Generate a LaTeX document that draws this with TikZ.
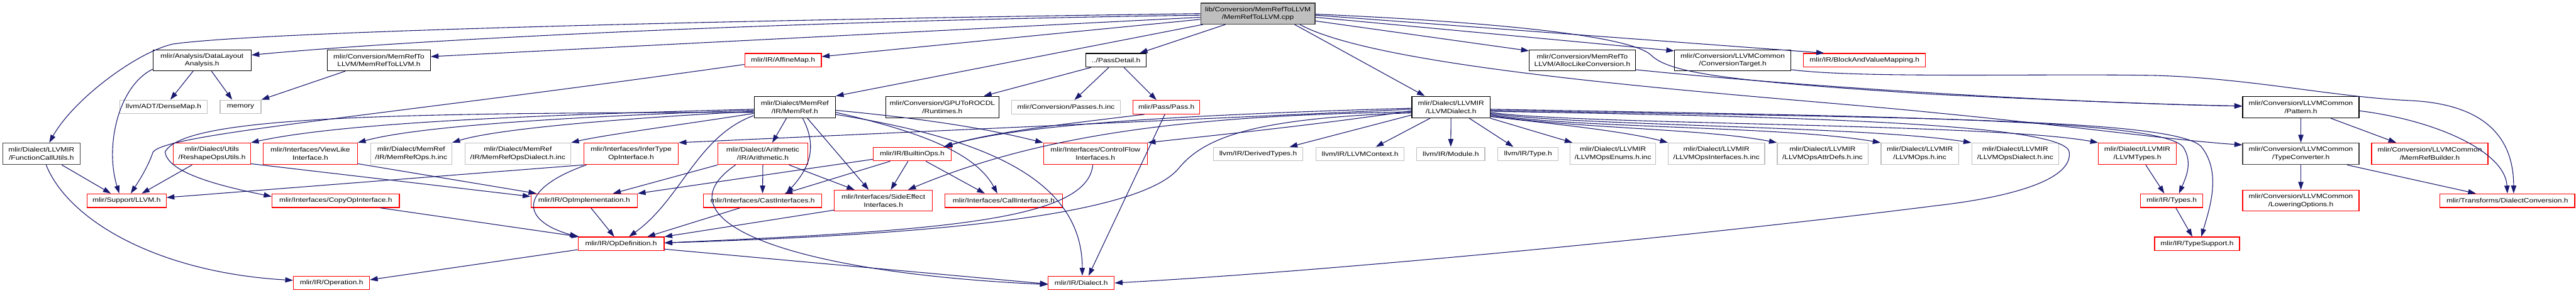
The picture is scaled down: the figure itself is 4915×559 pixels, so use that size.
\documentclass[tikz,border=0pt]{standalone}
\usepackage{fontspec}
\setmainfont{Liberation Sans}[FakeStretch=1.2]
\usetikzlibrary{arrows.meta}
\definecolor{edgec}{HTML}{191970}
\definecolor{grayb}{HTML}{BFBFBF}
\definecolor{dgray}{HTML}{404040}
\definecolor{redb}{HTML}{FF0000}
\tikzset{
 box/.style={draw, line width=1.5pt, fill=white, inner sep=0pt, align=center, font=\fontsize{12}{15}\selectfont},
 blk/.style={box, draw=black},
 gry/.style={box, draw=grayb},
 rd/.style={box, draw=redb},
 dg/.style={box, draw=dgray},
 rootbox/.style={box, draw=dgray, fill=grayb},
 edge/.style={draw=edgec, line width=1.3pt, -{Triangle[length=15pt,width=10pt]}},
}
\begin{document}
\begin{tikzpicture}[x=1pt,y=-1pt]
\useasboundingbox[fill=white] (0,0) rectangle (4915,559);
% row 1
\node[rootbox, minimum width=218pt, minimum height=40pt] (root) at (2400,26) {lib/Conversion/MemRefToLLVM\\/MemRefToLLVM.cpp};
% row 2
\node[blk, minimum width=187pt, minimum height=40pt] (dl) at (385.5,115) {mlir/Analysis/DataLayout\\Analysis.h};
\node[blk, minimum width=196pt, minimum height=40pt] (m2l) at (723,115) {mlir/Conversion/MemRefTo\\LLVM/MemRefToLLVM.h};
\node[rd, minimum width=146pt, minimum height=26pt] (aff) at (1494,115) {mlir/IR/AffineMap.h};
\node[blk, minimum width=115pt, minimum height=26pt] (pd) at (2129.5,115) {../PassDetail.h};
\node[blk, minimum width=202pt, minimum height=40pt] (alloc) at (3019,115) {mlir/Conversion/MemRefTo\\LLVM/AllocLikeConversion.h};
\node[blk, minimum width=222pt, minimum height=40pt] (ct) at (3306,115) {mlir/Conversion/LLVMCommon\\/ConversionTarget.h};
\node[rd, minimum width=233pt, minimum height=26pt] (bvm) at (3557.5,115) {mlir/IR/BlockAndValueMapping.h};
% row 3
\node[gry, minimum width=166pt, minimum height=26pt] (dense) at (312,204) {llvm/ADT/DenseMap.h};
\node[gry, minimum width=78pt, minimum height=26pt] (mem) at (459,204) {memory};
\node[blk, minimum width=155pt, minimum height=41pt] (memref) at (1516.5,204.5) {mlir/Dialect/MemRef\\/IR/MemRef.h};
\node[blk, minimum width=216pt, minimum height=41pt] (rt) at (1798,204.5) {mlir/Conversion/GPUToROCDL\\/Runtimes.h};
\node[gry, minimum width=208pt, minimum height=26pt] (passinc) at (2034,204.5) {mlir/Conversion/Passes.h.inc};
\node[rd, minimum width=127pt, minimum height=26pt] (pass) at (2225.5,204.5) {mlir/Pass/Pass.h};
\node[blk, minimum width=149pt, minimum height=41pt] (llvmd) at (2768.5,204.5) {mlir/Dialect/LLVMIR\\/LLVMDialect.h};
\node[blk, minimum width=222pt, minimum height=41pt] (pat) at (4390,204.5) {mlir/Conversion/LLVMCommon\\/Pattern.h};
% row 4
\node[dg, minimum width=148pt, minimum height=41pt] (fcu) at (79,293.5) {mlir/Dialect/LLVMIR\\/FunctionCallUtils.h};
\node[rd, minimum width=147pt, minimum height=41pt] (reshape) at (404.5,293.5) {mlir/Dialect/Utils\\/ReshapeOpsUtils.h};
\node[rd, minimum width=180pt, minimum height=41pt] (view) at (592,293.5) {mlir/Interfaces/ViewLike\\Interface.h};
\node[gry, minimum width=155pt, minimum height=41pt] (mrops) at (784.5,293.5) {mlir/Dialect/MemRef\\/IR/MemRefOps.h.inc};
\node[gry, minimum width=202pt, minimum height=41pt] (mrdial) at (988,293.5) {mlir/Dialect/MemRef\\/IR/MemRefOpsDialect.h.inc};
\node[rd, minimum width=180pt, minimum height=41pt] (infer) at (1204,293.5) {mlir/Interfaces/InferType\\OpInterface.h};
\node[rd, minimum width=171pt, minimum height=41pt] (arith) at (1455.5,293.5) {mlir/Dialect/Arithmetic\\/IR/Arithmetic.h};
\node[rd, minimum width=149pt, minimum height=26pt] (builtin) at (1740.5,294) {mlir/IR/BuiltinOps.h};
\node[rd, minimum width=198pt, minimum height=41pt] (cf) at (2090,293.5) {mlir/Interfaces/ControlFlow\\Interfaces.h};
\node[gry, minimum width=171pt, minimum height=26pt] (derived) at (2400.5,294) {llvm/IR/DerivedTypes.h};
\node[gry, minimum width=168pt, minimum height=26pt] (ctx) at (2595,294) {llvm/IR/LLVMContext.h};
\node[gry, minimum width=130pt, minimum height=26pt] (module) at (2768,294) {llvm/IR/Module.h};
\node[gry, minimum width=115pt, minimum height=26pt] (type) at (2915.5,294) {llvm/IR/Type.h};
\node[gry, minimum width=163pt, minimum height=41pt] (enums) at (3077.5,293.5) {mlir/Dialect/LLVMIR\\/LLVMOpsEnums.h.inc};
\node[gry, minimum width=184pt, minimum height=41pt] (ifaces) at (3275,293.5) {mlir/Dialect/LLVMIR\\/LLVMOpsInterfaces.h.inc};
\node[gry, minimum width=173pt, minimum height=41pt] (attrs) at (3477.5,293.5) {mlir/Dialect/LLVMIR\\/LLVMOpsAttrDefs.h.inc};
\node[gry, minimum width=148pt, minimum height=41pt] (opsinc) at (3663,293.5) {mlir/Dialect/LLVMIR\\/LLVMOps.h.inc};
\node[gry, minimum width=166pt, minimum height=41pt] (opsdial) at (3845,293.5) {mlir/Dialect/LLVMIR\\/LLVMOpsDialect.h.inc};
\node[rd, minimum width=148pt, minimum height=41pt] (ltypes) at (4078,293.5) {mlir/Dialect/LLVMIR\\/LLVMTypes.h};
\node[dg, minimum width=222pt, minimum height=41pt] (tc) at (4390,293.5) {mlir/Conversion/LLVMCommon\\/TypeConverter.h};
\node[rd, minimum width=222pt, minimum height=41pt] (mrb) at (4636,293.5) {mlir/Conversion/LLVMCommon\\/MemRefBuilder.h};
% row 5
\node[rd, minimum width=151pt, minimum height=26pt] (llvmh) at (241.5,383) {mlir/Support/LLVM.h};
\node[rd, minimum width=243pt, minimum height=26pt] (copy) at (640.5,383) {mlir/Interfaces/CopyOpInterface.h};
\node[rd, minimum width=203pt, minimum height=26pt] (opimpl) at (1114.5,383) {mlir/IR/OpImplementation.h};
\node[rd, minimum width=226pt, minimum height=26pt] (cast) at (1455,383) {mlir/Interfaces/CastInterfaces.h};
\node[rd, minimum width=187pt, minimum height=40pt] (side) at (1685.5,383) {mlir/Interfaces/SideEffect\\Interfaces.h};
\node[rd, minimum width=224pt, minimum height=26pt] (call) at (1915,383) {mlir/Interfaces/CallInterfaces.h};
\node[rd, minimum width=119pt, minimum height=26pt] (types) at (4143.5,383) {mlir/IR/Types.h};
\node[rd, minimum width=222pt, minimum height=40pt] (lower) at (4390,383) {mlir/Conversion/LLVMCommon\\/LoweringOptions.h};
\node[rd, minimum width=257pt, minimum height=26pt] (dconv) at (4784,383) {mlir/Transforms/DialectConversion.h};
% row 6
\node[rd, minimum width=164pt, minimum height=26pt] (opdef) at (1185,465.5) {mlir/IR/OpDefinition.h};
\node[rd, minimum width=162pt, minimum height=26pt] (tsup) at (4192,465.5) {mlir/IR/TypeSupport.h};
% row 7
\node[rd, minimum width=145pt, minimum height=26pt] (op) at (632.5,540) {mlir/IR/Operation.h};
\node[rd, minimum width=126pt, minimum height=26pt] (dialect) at (2063,540) {mlir/IR/Dialect.h};

% ---- edges from root
\draw[edge] (root.west) .. controls (1400,38) and (500,60) .. (330,84) .. controls (260,100) and (140,190) .. ([xshift=15pt]fcu.north);
\draw[edge] ([yshift=-3pt]root.west) .. controls (1500,40) and (800,75) .. ([yshift=10pt]dl.east);
\draw[edge] ([yshift=-7pt]root.west) -- ([yshift=7pt]m2l.east);
\draw[edge] ([yshift=-11pt]root.west) -- ([yshift=7pt]aff.east);
\draw[edge] ([xshift=5pt]root.south west) -- (memref.north east);
\draw[edge] ([xshift=-62pt]root.south) -- ([xshift=45pt]pd.north);
\draw[edge] ([xshift=70pt]root.south) -- ([xshift=-50pt]llvmd.north);
\draw[edge] ([yshift=-14pt]root.east) -- ([yshift=18pt]alloc.west);
\draw[edge] ([yshift=-7pt]root.east) -- ([yshift=18pt]ct.west);
\draw[edge] ([yshift=-3pt]root.east) -- ([xshift=-77pt]bvm.north);
\draw[edge] ([yshift=-1pt]root.east) .. controls (2850,42) and (3110,68) .. (3150,105) .. controls (3185,140) and (3300,155) .. (3690,180) .. controls (4000,195) and (4150,200) .. ([yshift=2pt]pat.west);
\draw[edge] ([xshift=80pt]root.south) .. controls (2650,140) and (3400,185) .. (3690,215) .. controls (3950,240) and (4150,268) .. ([yshift=17pt]tc.west);

% ---- right part
\draw[edge] ([yshift=-18pt]alloc.east) .. controls (3400,162) and (3900,195) .. ([yshift=2pt]pat.west);
\draw[edge] ([yshift=-18pt]ct.east) .. controls (3550,150) and (3900,140) .. (4113,144) .. controls (4300,150) and (4450,185) .. (4600,192) .. controls (4760,200) and (4796,280) .. ([xshift=12pt]dconv.north);
\draw[edge] ([yshift=-7pt]pat.east) .. controls (4650,230) and (4780,290) .. (dconv.north);
\draw[edge] (pat.south) -- (tc.north);
\draw[edge] ([xshift=57pt]pat.south) -- ([xshift=-64pt]mrb.north);
\draw[edge] (tc.south) -- (lower.north);
\draw[edge] ([xshift=88pt]tc.south) -- ([xshift=-60pt]dconv.north);
\draw[edge] ([xshift=16pt]ltypes.south) -- ([xshift=-14pt]types.north);
\draw[edge] ([xshift=8pt]types.south) -- ([xshift=-9pt]tsup.north);

% ---- LLVMDialect
\draw[edge] ([yshift=-4pt]llvmd.east) .. controls (3600,222) and (4120,228) .. (4165,280) .. controls (4185,310) and (4170,340) .. ([xshift=14pt]types.north);
\draw[edge] ([yshift=-6pt]llvmd.east) .. controls (3600,225) and (4150,225) .. (4200,280) .. controls (4240,330) and (4215,400) .. ([xshift=8pt]tsup.north);
\draw[edge] ([yshift=-8pt]llvmd.east) .. controls (3400,222) and (3940,235) .. (3948,290) .. controls (3955,340) and (3850,375) .. (3690,393) .. controls (3200,455) and (2500,520) .. (dialect.east);
\draw[edge] ([yshift=-10pt]llvmd.east) .. controls (3000,238) and (3800,235) .. (ltypes.north west);
\draw[edge] ([yshift=-12pt]llvmd.east) .. controls (3000,240) and (3550,240) .. (opsdial.north west);
\draw[edge] ([yshift=-14pt]llvmd.east) .. controls (3000,245) and (3400,240) .. (opsinc.north west);
\draw[edge] ([yshift=-16pt]llvmd.east) .. controls (3000,245) and (3250,245) .. (attrs.north west);
\draw[edge] ([yshift=-18pt]llvmd.east) .. controls (2950,235) and (3100,250) .. (ifaces.north west);
\draw[edge] (llvmd.south east) -- ([xshift=5pt]enums.north west);
\draw[edge] ([xshift=35pt]llvmd.south) -- ([xshift=-28pt]type.north);
\draw[edge] (llvmd.south) -- (module.north);
\draw[edge] ([xshift=-40pt]llvmd.south) -- ([xshift=30pt]ctx.north);
\draw[edge] ([yshift=-15pt]llvmd.west) -- ([xshift=60pt]derived.north);
\draw[edge] ([yshift=-2pt]llvmd.west) .. controls (2300,218) and (1950,235) .. ([xshift=62pt]builtin.north);
\draw[edge] ([yshift=-4pt]llvmd.west) -- (infer.north east);
\draw[edge] ([yshift=-7pt]llvmd.west) .. controls (2500,240) and (2300,260) .. (cf.north east);
\draw[edge] ([yshift=-9pt]llvmd.west) .. controls (2300,220) and (2000,250) .. ([xshift=47pt]side.north);
\draw[edge] ([yshift=-11pt]llvmd.west) .. controls (2400,225) and (2300,260) .. (2250,320) .. controls (2170,420) and (1700,450) .. ([yshift=2pt]opdef.east);

% ---- Pass / PassDetail
\draw[edge] ([xshift=-5pt]cf.south) .. controls (2075,420) and (1800,440) .. ([yshift=2pt]opdef.east);
\draw[edge] ([xshift=-42pt]pass.south) .. controls (2050,235) and (1900,250) .. ([xshift=60pt]builtin.north);
\draw[edge] ([xshift=-3pt]pass.south) -- ([xshift=14pt]dialect.north);
\draw[edge] ([xshift=-48pt]pd.south) -- ([xshift=79pt]rt.north);
\draw[edge] ([xshift=-14pt]pd.south) -- ([xshift=16pt]passinc.north);
\draw[edge] ([xshift=15pt]pd.south) -- ([xshift=-19pt]pass.north);

% ---- left part
\draw[edge] ([xshift=-17pt]dl.south) -- ([xshift=13pt]dense.north);
\draw[edge] ([xshift=18pt]dl.south) -- ([xshift=-16pt]mem.north);
\draw[edge] ([xshift=-64pt]m2l.south) -- (mem.north east);
\draw[edge] ([yshift=-17pt]dl.west) .. controls (225,165) and (200,280) .. ([xshift=-14pt]llvmh.north);
\draw[edge] ([yshift=-8pt]aff.west) .. controls (700,225) and (320,255) .. (292,290) .. controls (282,320) and (262,350) .. ([xshift=8pt]llvmh.north);
\draw[edge] ([xshift=39pt]fcu.south) -- ([xshift=-30pt]llvmh.north);
\draw[edge] ([xshift=9pt]fcu.south) .. controls (130,420) and (300,520) .. ([yshift=5pt]op.west);
\draw[edge] ([xshift=-38pt]reshape.south) -- ([xshift=29pt]llvmh.north);
\draw[edge] ([yshift=-19pt]reshape.east) -- ([yshift=8pt]opimpl.west);
\draw[edge] ([yshift=-19pt]view.east) -- ([xshift=-91pt]opimpl.north);
\draw[edge] (infer.south west) -- ([yshift=6pt]llvmh.east);
\draw[edge] ([xshift=-85pt]infer.south) .. controls (990,360) and (990,420) .. (opdef.north west);
\draw[edge] ([xshift=85pt]copy.south) -- ([xshift=3pt]opdef.north west);
\draw[edge] ([xshift=13pt]opimpl.south) -- ([xshift=-13pt]opdef.north);
\draw[edge] ([yshift=-11pt]opdef.west) -- ([yshift=6pt]op.east);
\draw[edge] ([yshift=-10pt]opdef.east) -- ([yshift=-2pt]dialect.west);

% ---- Arithmetic / BuiltinOps / interfaces
\draw[edge] ([xshift=-52pt]arith.south) .. controls (1250,420) and (1500,520) .. ([yshift=-3pt]dialect.west);
\draw[edge] (arith.south west) -- ([xshift=55pt]opimpl.north);
\draw[edge] (arith.south) -- (cast.north);
\draw[edge] ([xshift=50pt]arith.south) -- ([xshift=-55pt]side.north);
\draw[edge] ([yshift=-10pt]builtin.west) -- (opimpl.north east);
\draw[edge] ([xshift=-42pt]builtin.south) -- ([xshift=42pt]cast.north);
\draw[edge] ([xshift=-8pt]builtin.south) -- ([xshift=14pt]side.north);
\draw[edge] ([xshift=26pt]builtin.south) -- ([xshift=-36pt]call.north);
\draw[edge] ([xshift=-43pt]cast.south) -- ([xshift=50pt]opdef.north);
\draw[edge] ([yshift=-18pt]side.west) -- (opdef.north east);

% ---- MemRef
\draw[edge] ([yshift=-4pt]memref.west) .. controls (1000,220) and (650,235) .. (reshape.north east);
\draw[edge] ([yshift=-6pt]memref.west) .. controls (1100,222) and (800,240) .. (view.north east);
\draw[edge] ([yshift=-8pt]memref.west) .. controls (1200,225) and (950,245) .. (mrops.north east);
\draw[edge] ([yshift=-12pt]memref.west) .. controls (1300,238) and (1150,258) .. (mrdial.north east);
\draw[edge] ([yshift=-10pt]memref.west) .. controls (700,215) and (350,225) .. (315,290) .. controls (320,330) and (420,355) .. ([yshift=8pt]copy.west);
\draw[edge] ([yshift=-16pt]memref.west) .. controls (1330,260) and (1300,380) .. ([xshift=15pt]opdef.north);
\draw[edge] ([xshift=-16pt]memref.south) -- ([xshift=18pt]arith.north);
\draw[edge] ([xshift=15pt]memref.south) .. controls (1560,280) and (1545,320) .. ([xshift=45pt]cast.north);
\draw[edge] ([xshift=24pt]memref.south) -- ([xshift=-28pt]side.north);
\draw[edge] ([yshift=-10pt]memref.east) .. controls (1750,250) and (1860,290) .. ([xshift=-12pt]call.north);
\draw[edge] ([yshift=-14pt]memref.east) .. controls (1850,260) and (2065,330) .. ([xshift=2pt]dialect.north);
\draw[edge] ([yshift=-6pt]memref.east) .. controls (1800,230) and (1900,250) .. (cf.north west);
\end{tikzpicture}
\end{document}
